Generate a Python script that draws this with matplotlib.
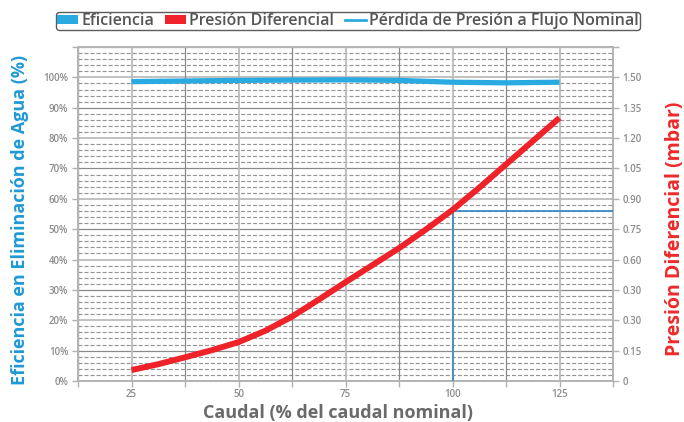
import matplotlib
matplotlib.use("Agg")
import matplotlib.pyplot as plt
from matplotlib.patches import Patch
from matplotlib.lines import Line2D
import numpy as np

plt.rcParams['font.family'] = ['Open Sans', 'DejaVu Sans']

# ---- data ----
caudal_eff = [25, 37.5, 50, 62.5, 75, 87.5, 100, 112.5, 125]
eficiencia = [98.6, 98.8, 99.0, 99.1, 99.2, 99.0, 98.4, 98.2, 98.4]

caudal_dp = [25, 31.25, 37.5, 43.75, 50, 56.25, 62.5, 68.75, 75, 81.25,
             87.5, 93.75, 100, 106.25, 112.5, 118.75, 125]
presion = [0.054, 0.083, 0.117, 0.152, 0.192, 0.248, 0.318, 0.402, 0.488,
           0.572, 0.656, 0.748, 0.845, 0.955, 1.070, 1.185, 1.300]

nominal_caudal = 100
nominal_presion = 0.84

x_ticks = [12.5, 25, 37.5, 50, 62.5, 75, 87.5, 100, 112.5, 125, 137.5]
x_ticklabels = ['', '25', '', '50', '', '75', '', '100', '', '125', '']
left_ticks = [0, 10, 20, 30, 40, 50, 60, 70, 80, 90, 100, 110]
left_ticklabels = ['0%', '10%', '20%', '30%', '40%', '50%', '60%', '70%',
                   '80%', '90%', '100%', '']
right_ticks = [0, 0.15, 0.30, 0.45, 0.60, 0.75, 0.90, 1.05, 1.20, 1.35, 1.50, 1.65]
right_ticklabels = ['0', '0.15', '0.30', '0.30', '0.60', '0.75', '0.90', '1.05',
                    '1.20', '1.35', '1.50', '']

# ---- styles ----
c_eff = '#29abe2'
c_dp = '#ee2228'
c_nom = '#3a8dc8'
c_tick = '#8c8c8c'
c_grid_light = '#bcbcbc'
c_grid_dark = '#8a8a8a'

fig = plt.figure(figsize=(6.84, 4.22), dpi=100)
ax = fig.add_axes([78/684, 1-381/422, (613-78)/684, (381-47)/422])
ax2 = ax.twinx()

ax.set_xlim(12.5, 137.5)
ax.set_ylim(0, 110)
ax2.set_ylim(0, 1.65)

# grid: minor dashed every 2%
for v in np.arange(0, 110.1, 2):
    if abs(v % 10) < 1e-6:
        continue
    ax.axhline(v, color='#959595', lw=0.85, ls=(0, (3.4, 1.7)), zorder=1)
for i, v in enumerate(left_ticks):
    col = c_grid_light if i % 2 == 0 else c_grid_dark
    lw = 1.3 if i % 2 == 0 else 0.9
    ax.axhline(v, color=col, lw=lw, zorder=1.2)
for i, v in enumerate(x_ticks):
    col = c_grid_light if i % 2 == 1 else c_grid_dark
    lw = 1.3 if i % 2 == 1 else 0.9
    ax.axvline(v, color=col, lw=lw, zorder=1.2)

# series
ax.plot(caudal_eff, eficiencia, color=c_eff, lw=3.8, solid_capstyle='butt', zorder=5)
ax2.plot(caudal_dp, presion, color=c_dp, lw=4.3, solid_capstyle='butt',
         solid_joinstyle='round', zorder=5)
ax2.plot([nominal_caudal, nominal_caudal], [0, nominal_presion], color=c_nom, lw=1.3, zorder=4)
ax2.plot([nominal_caudal, 137.5], [nominal_presion, nominal_presion], color=c_nom, lw=1.3, zorder=4)

# ticks
ax.set_xticks(x_ticks)
ax.set_xticklabels(x_ticklabels)
ax.set_yticks(left_ticks)
ax.set_yticklabels(left_ticklabels)
ax2.set_yticks(right_ticks)
ax2.set_yticklabels(right_ticklabels)

for a in (ax, ax2):
    a.tick_params(direction='out', length=4, width=1, color='#b0b0b0',
                  labelcolor=c_tick, labelsize=7, pad=3)
    for lab in a.get_xticklabels() + a.get_yticklabels():
        lab.set_fontweight('semibold')
    for s in a.spines.values():
        s.set_color('#b4b4b4')
        s.set_linewidth(1.3)
ax.tick_params(axis='x', pad=2)
ax.set_zorder(2)
ax2.set_zorder(3)
ax.patch.set_visible(True)
ax2.patch.set_visible(False)

# labels
fig.text(20/684, 1-220/422, 'Eficiencia en Eliminación de Agua (%)', rotation=90,
         color='#1f9ad6', fontsize=13, fontweight='bold', ha='center', va='center')
fig.text(675/684, 1-229/422, 'Presión Diferencial (mbar)', rotation=90,
         color='#ee2a2a', fontsize=14, fontweight='bold', ha='center', va='center')
fig.text(338/684, 1-413/422, 'Caudal (% del caudal nominal)',
         color='#6a6a6a', fontsize=13, fontweight='bold', ha='center', va='center')

# legend
handles = [Patch(facecolor=c_eff, edgecolor='none'),
           Patch(facecolor=c_dp, edgecolor='none'),
           Line2D([0], [0], color=c_eff, lw=2)]
labels = ['Eficiencia', 'Presión Diferencial', 'Pérdida de Presión a Flujo Nominal']
leg = fig.legend(handles, labels, loc='center', bbox_to_anchor=(348/684, 1-21/422),
                 ncol=3, frameon=True, fancybox=True,
                 prop={'size': 11.5, 'weight': 'semibold'},
                 handlelength=1.3, handleheight=0.55, handletextpad=0.2,
                 columnspacing=0.7, borderpad=0.05, labelspacing=0.2)
leg.get_frame().set_edgecolor('#333333')
leg.get_frame().set_linewidth(1.0)
for t in leg.get_texts():
    t.set_color('#555555')

fig.savefig('out.png', dpi=100)
